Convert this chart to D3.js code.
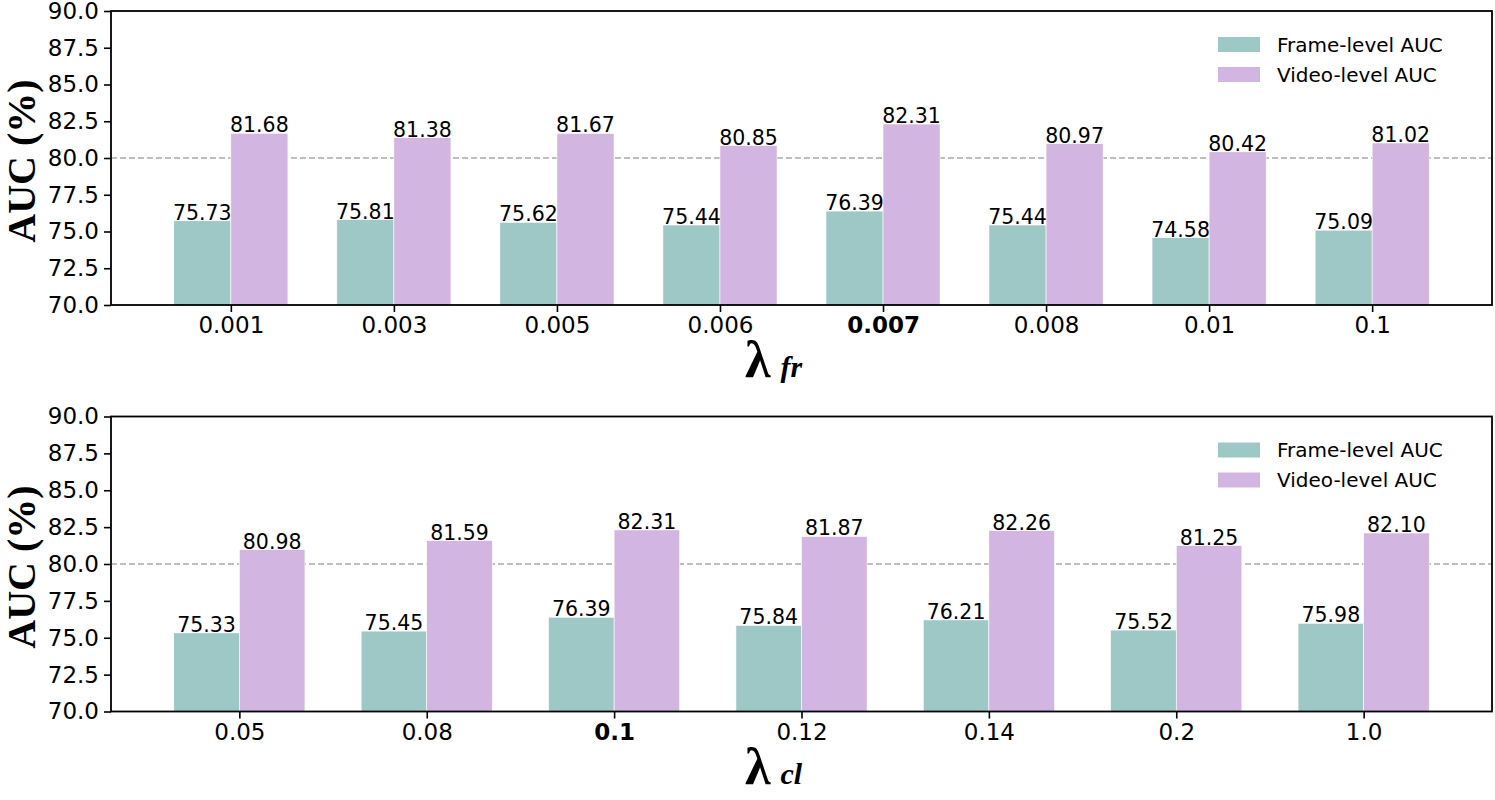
<!DOCTYPE html>
<html>
<head>
<meta charset="utf-8">
<script src="https://cdn.jsdelivr.net/npm/d3@7"></script>
<style>
  body { margin: 0; background: #fff; }
  text { font-family: "DejaVu Sans", sans-serif; }
</style>
</head>
<body>
<svg width="1495" height="800"></svg>
<script>
// top panel: lambda_fr sweep
const frCats = ["0.001", "0.003", "0.005", "0.006", "0.007", "0.008", "0.01", "0.1"];
const frFrame = [75.73, 75.81, 75.62, 75.44, 76.39, 75.44, 74.58, 75.09];
const frVideo = [81.68, 81.38, 81.67, 80.85, 82.31, 80.97, 80.42, 81.02];
const frBest = "0.007";

// bottom panel: lambda_cl sweep
const clCats = ["0.05", "0.08", "0.1", "0.12", "0.14", "0.2", "1.0"];
const clFrame = [75.33, 75.45, 76.39, 75.84, 76.21, 75.52, 75.98];
const clVideo = [80.98, 81.59, 82.31, 81.87, 82.26, 81.25, 82.10];
const clBest = "0.1";

const yTicks = [70, 72.5, 75, 77.5, 80, 82.5, 85, 87.5, 90];
const seriesNames = ["Frame-level AUC", "Video-level AUC"];
const colors = ["#9ec8c6", "#d2b5e0"];

const svg = d3.select("svg");
const left = 111, right = 1492;
const barW = 0.35;

function panel(top, bottom, cats, frame, video, best, sub, clipId) {
  const n = cats.length;
  const margin = 0.05 * (n - 1 + 2 * barW);
  const x = d3.scaleLinear()
    .domain([-barW - margin, n - 1 + barW + margin])
    .range([left, right]);
  const y = d3.scaleLinear().domain([70, 90]).range([bottom, top]);

  const g = svg.append("g");

  svg.append("clipPath").attr("id", clipId)
    .append("rect").attr("x", left).attr("y", top)
    .attr("width", right - left).attr("height", bottom - top);

  // reference line at 80
  g.append("line")
    .attr("x1", left).attr("x2", right)
    .attr("y1", y(80)).attr("y2", y(80))
    .attr("stroke", "#aaaaaa").attr("stroke-width", 1.5)
    .attr("stroke-dasharray", "6,3");

  const bars = g.append("g").attr("clip-path", "url(#" + clipId + ")");
  [frame, video].forEach(function(vals, s) {
    bars.selectAll(null).data(vals).enter().append("rect")
      .attr("x", (d, i) => x(i - barW + s * barW))
      .attr("width", x(barW) - x(0))
      .attr("y", d => y(d))
      .attr("height", d => y(70) - y(d) + 2)
      .attr("fill", colors[s])
      .attr("stroke", "#ffffff").attr("stroke-width", 0.6);

    g.selectAll(null).data(vals).enter().append("text")
      .attr("x", (d, i) => x(i - barW / 2 + s * barW))
      .attr("y", d => y(d) - 1)
      .attr("text-anchor", "middle")
      .attr("font-size", 20.5)
      .text(d => d.toFixed(2));
  });

  // axes
  const yAxis = d3.axisLeft(y).tickValues(yTicks).tickFormat(d3.format(".1f"))
    .tickSize(7).tickPadding(5);
  const ya = g.append("g").attr("transform", "translate(" + left + ",0)").call(yAxis);
  ya.select(".domain").remove();
  ya.selectAll("line").attr("stroke-width", 1.6);
  ya.selectAll("text").attr("font-size", 23).attr("fill", "#000")
    .attr("font-family", "DejaVu Sans");

  const xAxis = d3.axisBottom(x).tickValues(d3.range(n)).tickFormat(i => cats[i])
    .tickSize(7).tickPadding(5);
  const xa = g.append("g").attr("transform", "translate(0," + bottom + ")").call(xAxis);
  xa.select(".domain").remove();
  xa.selectAll("line").attr("stroke-width", 1.6);
  xa.selectAll("text").attr("font-size", 23).attr("fill", "#000")
    .attr("font-family", "DejaVu Sans")
    .attr("font-weight", i => cats[i] === best ? "bold" : "normal");

  // frame
  g.append("rect")
    .attr("x", left).attr("y", top)
    .attr("width", right - left).attr("height", bottom - top)
    .attr("fill", "none").attr("stroke", "#000").attr("stroke-width", 1.8);

  // y label
  g.append("text")
    .attr("transform", "translate(35," + ((top + bottom) / 2 + 3) + ") rotate(-90)")
    .attr("text-anchor", "middle")
    .style("font-family", "'Liberation Serif', 'Times New Roman', serif")
    .attr("font-weight", "bold")
    .attr("font-size", 40)
    .text("AUC (%)");

  // x label: lambda with subscript
  const xl = g.append("text")
    .attr("x", 745).attr("y", bottom + 72)
    .style("font-family", "'Liberation Serif', 'Times New Roman', serif")
    .attr("font-weight", "bold");
  xl.append("tspan").attr("font-size", 52).text("λ");
  xl.append("tspan").attr("font-size", 30).attr("font-style", "italic")
    .attr("dx", 10).attr("dy", 0).text(sub);

  // legend
  const lg = g.append("g").attr("transform", "translate(1218," + (top + 26) + ")");
  seriesNames.forEach(function(name, s) {
    lg.append("rect").attr("x", 0).attr("y", s * 30)
      .attr("width", 42).attr("height", 15).attr("fill", colors[s]);
    lg.append("text").attr("x", 59).attr("y", s * 30 + 7.5)
      .attr("dy", "0.35em").attr("font-size", 20).text(name);
  });
}

panel(11, 305, frCats, frFrame, frVideo, frBest, "fr", "clipTop");
panel(416.5, 711.5, clCats, clFrame, clVideo, clBest, "cl", "clipBottom");
</script>
</body>
</html>
